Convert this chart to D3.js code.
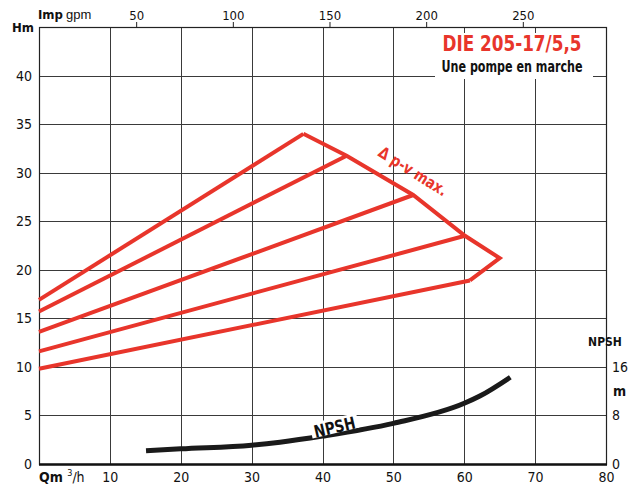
<!DOCTYPE html>
<html>
<head>
<meta charset="utf-8">
<script src="https://cdn.jsdelivr.net/npm/d3@7"></script>
<style>
  html, body { margin: 0; padding: 0; background: #fff; }
  svg { display: block; }
  text { font-family: "Liberation Sans Narrow", "DejaVu Sans Condensed", sans-serif; }
</style>
</head>
<body>
<svg id="chart" width="637" height="487"></svg>
<script>
// Axis ticks
const flowTicks = [10, 20, 30, 40, 50, 60, 70, 80];      // Q, m³/h
const headTicks = [0, 5, 10, 15, 20, 25, 30, 35, 40];    // H, m
const gpmTicks = [50, 100, 150, 200, 250];               // Imp gpm
const npshTicks = [0, 8, 16];                            // NPSH, m
const GPM_PER_M3H = 3.666;

// Speed curves: head at zero flow and at the Δp-v max. limit
const curveStartHead = [16.9, 15.7, 13.6, 11.6, 9.8];
const curveEndFlow   = [37.3, 43.4, 52.8, 60.1, 60.8];
const curveEndHead   = [34.0, 31.75, 27.7, 23.5, 18.9];

// Δp-v max. boundary (Q, H)
const limitFlow = [37.3, 43.4, 52.8, 60.1, 65.0, 60.8];
const limitHead = [34.0, 31.75, 27.7, 23.5, 21.2, 18.9];

// NPSH curve (Q, NPSH m)
const npshFlow = [15.1, 20, 30, 34, 40, 50, 60, 62.2, 66.5];
const npshVal  = [2.17, 2.5, 3.1, 3.6, 4.6, 6.7, 10.0, 11.2, 14.3];

const svg = d3.select("#chart");
const pL = 39, pR = 606, pT = 27, pB = 464;

const x = d3.scaleLinear([0, 80], [pL, pR]);
const y = d3.scaleLinear([0, 45], [pB, pT]);
const yN = d3.scaleLinear([0, 45 * 1.6], [pB, pT]);
const xTop = d3.scaleLinear([0, 80 * GPM_PER_M3H], [pL, pR]);

const red = "#e8352b";
const grid = "#3a3a3a";

// Grid
const g = svg.append("g");
g.selectAll("line.v").data(flowTicks.slice(0, -1)).join("line")
  .attr("x1", d => Math.round(x(d)) + 0.5).attr("x2", d => Math.round(x(d)) + 0.5)
  .attr("y1", pT).attr("y2", pB)
  .attr("stroke", grid).attr("stroke-width", 1);
g.selectAll("line.h").data(headTicks.slice(1)).join("line")
  .attr("x1", pL).attr("x2", pR)
  .attr("y1", d => Math.round(y(d)) + 0.5).attr("y2", d => Math.round(y(d)) + 0.5)
  .attr("stroke", grid).attr("stroke-width", 1);

// Frame
svg.append("rect").attr("x", pL + 0.5).attr("y", pT + 0.5)
  .attr("width", pR - pL).attr("height", pB - pT)
  .attr("fill", "none").attr("stroke", "#222").attr("stroke-width", 1.2);
svg.append("line").attr("x1", pL).attr("x2", pR + 1)
  .attr("y1", pB + 0.5).attr("y2", pB + 0.5)
  .attr("stroke", "#111").attr("stroke-width", 2.4);

// Top axis (Imp gpm)
const topAxis = d3.axisTop(xTop).tickValues(gpmTicks).tickSize(5).tickSizeOuter(0);
const ta = svg.append("g").attr("transform", `translate(0.5,${pT})`).call(topAxis);
ta.select(".domain").remove();
ta.selectAll("line").attr("stroke", "#222");
ta.selectAll("text").attr("font-family", "Liberation Sans, Arial, sans-serif")
  .attr("font-size", 13).attr("fill", "#111").attr("dy", "0.1em");
svg.append("text").attr("x", 38).attr("y", 19)
  .attr("font-size", 13).attr("fill", "#111")
  .call(t => {
    t.append("tspan").attr("font-weight", "bold").text("Imp");
    t.append("tspan").attr("dx", 3).attr("font-family", "Liberation Sans, Arial, sans-serif").text("gpm");
  });

// Bottom axis (Q m³/h)
const botAxis = d3.axisBottom(x).tickValues(flowTicks).tickSize(0).tickPadding(8);
const ba = svg.append("g").attr("transform", `translate(0,${pB})`).call(botAxis);
ba.select(".domain").remove();
ba.selectAll("text").attr("font-size", 14).attr("fill", "#111")
  .attr("font-family", "Liberation Sans Narrow, DejaVu Sans Condensed, sans-serif");
svg.append("text").attr("x", 39).attr("y", 482)
  .attr("font-size", 14).attr("font-weight", "bold").attr("fill", "#111")
  .call(t => {
    t.append("tspan").text("Qm ");
    t.append("tspan").attr("font-size", 9).attr("font-weight", "normal").attr("dy", -6).text("3");
    t.append("tspan").attr("dy", 6).attr("font-weight", "normal").text("/h");
  });

// Left axis (H m)
const leftAxis = d3.axisLeft(y).tickValues(headTicks).tickSize(0).tickPadding(7);
const la = svg.append("g").attr("transform", `translate(${pL},0)`).call(leftAxis);
la.select(".domain").remove();
la.selectAll("text").attr("font-size", 14).attr("fill", "#111")
  .attr("font-family", "Liberation Sans Narrow, DejaVu Sans Condensed, sans-serif");
svg.append("text").attr("x", 12).attr("y", 32)
  .attr("font-size", 13).attr("font-weight", "bold").attr("fill", "#111").text("Hm");

// Right axis (NPSH m)
const rightAxis = d3.axisRight(yN).tickValues(npshTicks).tickSize(0).tickPadding(6);
const ra = svg.append("g").attr("transform", `translate(${pR},0)`).call(rightAxis);
ra.select(".domain").remove();
ra.selectAll("text").attr("font-size", 14).attr("fill", "#111")
  .attr("font-family", "Liberation Sans Narrow, DejaVu Sans Condensed, sans-serif");
svg.append("text").attr("x", 605).attr("y", 346).attr("text-anchor", "middle")
  .attr("font-size", 12).attr("font-weight", "bold").attr("fill", "#111").text("NPSH");
svg.append("text").attr("x", 613).attr("y", 396)
  .attr("font-size", 14).attr("font-weight", "bold").attr("fill", "#111").text("m");

// Title panel
svg.append("rect").attr("x", 435).attr("y", 33).attr("width", 158).attr("height", 46)
  .attr("fill", "#fff");
svg.append("text").attr("x", 512).attr("y", 51).attr("text-anchor", "middle")
  .attr("font-size", 22).attr("font-weight", "bold").attr("fill", red)
  .attr("textLength", 139).attr("lengthAdjust", "spacingAndGlyphs")
  .text("DIE 205-17/5,5");
svg.append("text").attr("x", 512).attr("y", 72).attr("text-anchor", "middle")
  .attr("font-size", 16).attr("font-weight", "bold").attr("fill", "#111")
  .attr("textLength", 141).attr("lengthAdjust", "spacingAndGlyphs")
  .text("Une pompe en marche");

// Speed curves
const line = d3.line().x(d => x(d[0])).y(d => y(d[1]));
const curves = curveStartHead.map((h, i) => [[0, h], [curveEndFlow[i], curveEndHead[i]]]);
svg.append("g").selectAll("path").data(curves).join("path")
  .attr("d", line).attr("fill", "none").attr("stroke", red)
  .attr("stroke-width", 4).attr("stroke-linecap", "butt");

// Δp-v max. limit
svg.append("path").datum(limitFlow.map((q, i) => [q, limitHead[i]]))
  .attr("d", line).attr("fill", "none").attr("stroke", red)
  .attr("stroke-width", 4).attr("stroke-linejoin", "miter");
svg.append("text").attr("transform", "translate(410,176) rotate(32)")
  .attr("text-anchor", "middle").attr("font-size", 16).attr("font-weight", "bold")
  .attr("fill", red).attr("textLength", 78).attr("lengthAdjust", "spacingAndGlyphs")
  .text("\u0394 p-v max.");

// NPSH curve
const npshLine = d3.line().x(d => x(d[0])).y(d => yN(d[1])).curve(d3.curveMonotoneX);
svg.append("path").datum(npshFlow.map((q, i) => [q, npshVal[i]]))
  .attr("d", npshLine).attr("fill", "none").attr("stroke", "#1a1a1a")
  .attr("stroke-width", 5).attr("stroke-linecap", "butt");

// NPSH label on the curve
const lbl = svg.append("g").attr("transform", "translate(336,433) rotate(-13)");
lbl.append("rect").attr("x", -24).attr("y", -15).attr("width", 48).attr("height", 15).attr("fill", "#fff");
lbl.append("text").attr("text-anchor", "middle").attr("y", 0)
  .attr("font-size", 17).attr("font-weight", "bold").attr("fill", "#111")
  .attr("textLength", 42).attr("lengthAdjust", "spacingAndGlyphs").text("NPSH");
</script>
</body>
</html>
